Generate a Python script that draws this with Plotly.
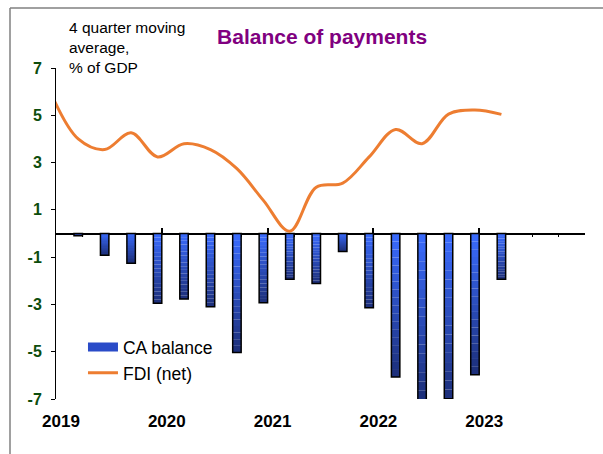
import plotly.graph_objects as go

# Current-account balance, % of GDP (4 quarter moving average)
ca_quarters = ["2019Q1", "2019Q2", "2019Q3", "2019Q4",
               "2020Q1", "2020Q2", "2020Q3", "2020Q4",
               "2021Q1", "2021Q2", "2021Q3", "2021Q4",
               "2022Q1", "2022Q2", "2022Q3", "2022Q4",
               "2023Q1"]
ca_balance = [-0.10, -0.92, -1.26, -2.95,
              -2.77, -3.10, -5.03, -2.93,
              -1.94, -2.11, -0.76, -3.14,
              -6.07, -7.04, -6.99, -5.97,
              -1.94]

# Net FDI, % of GDP (4 quarter moving average)
fdi_quarters = ["2018Q4"] + ca_quarters
fdi_net = [5.85, 4.00, 3.55, 4.26,
           3.24, 3.80, 3.55, 2.74,
           1.40, 0.10, 1.96, 2.13,
           3.24, 4.40, 3.80, 5.05,
           5.22, 5.04]

year_ticks = [2019, 2020, 2021, 2022, 2023, 2024]
year_labels = ["2019", "2020", "2021", "2022", "2023", ""]
y_ticks = [-7, -5, -3, -1, 1, 3, 5, 7]
y_labels = [str(v) for v in y_ticks]

FONT = "Liberation Sans, Arial, sans-serif"
TOP_BLUE = (58, 108, 255)
BOTTOM_BLUE = (28, 46, 120)
ORANGE = "#ED7D31"
BAR_WIDTH = 0.08
N_SLICES = 18


def quarter_pos(label):
    """Place each quarter near its end on a fractional-year axis."""
    year, q = int(label[:4]), int(label[-1])
    return year + q / 4 - 0.04


def blend(t):
    r, g, b = (round(a + (c - a) * t) for a, c in zip(TOP_BLUE, BOTTOM_BLUE))
    return f"rgb({r},{g},{b})"


ca_x = [quarter_pos(q) for q in ca_quarters]
fdi_x = [quarter_pos(q) for q in fdi_quarters]

fig = go.Figure()

# Bars shaded from light (at zero) to dark (at the bar end)
for j in range(N_SLICES):
    fig.add_bar(
        x=ca_x,
        y=[v / N_SLICES for v in ca_balance],
        base=[v * j / N_SLICES for v in ca_balance],
        width=BAR_WIDTH,
        marker=dict(color=blend((j + 0.5) / N_SLICES), line=dict(width=0)),
        showlegend=False,
        hoverinfo="skip",
    )

# Bar outlines
fig.add_bar(
    x=ca_x, y=ca_balance, width=BAR_WIDTH,
    marker=dict(color="rgba(0,0,0,0)", line=dict(color="black", width=1.5)),
    showlegend=False, name="CA balance",
)

# Legend entry for the bars
fig.add_scatter(
    x=[None], y=[None], mode="lines", name="CA balance",
    line=dict(color="#2a4bc8", width=9),
)

fig.add_scatter(
    x=fdi_x, y=fdi_net, mode="lines", name="FDI (net)",
    line=dict(color=ORANGE, width=3, shape="spline", smoothing=1.0),
)

fig.update_layout(
    width=603, height=454,
    margin=dict(l=56, r=18, t=68, b=55),
    paper_bgcolor="white", plot_bgcolor="white",
    barmode="overlay",
    font=dict(family=FONT, color="black"),
    title=dict(
        text="<b>Balance of payments</b>",
        x=0.503, xref="paper", xanchor="center",
        y=1 - 37 / 454, yref="container", yanchor="middle",
        font=dict(size=21, color="#800080", family=FONT),
    ),
    legend=dict(
        x=0.051, y=0.211, xanchor="left", yanchor="top",
        bgcolor="rgba(0,0,0,0)", font=dict(size=17.5, family=FONT),
        tracegroupgap=0,
    ),
    xaxis=dict(
        range=[2019, 2024],
        tickmode="array", tickvals=year_ticks, ticktext=year_labels,
        showline=True, linecolor="black", linewidth=1.5,
        ticks="inside", ticklen=5, tickcolor="black", tickwidth=1.5,
        anchor="free", position=0.5,
        showgrid=False, zeroline=False,
        tickfont=dict(size=17, color="black", weight="bold", family=FONT),
        ticklabelstandoff=172, ticklabelshift=5,
        minor=dict(tickmode="linear", tick0=2019, dtick=0.25,
                   ticks="outside", ticklen=3, tickcolor="black", tickwidth=1),
        layer="below traces",
    ),
    yaxis=dict(
        range=[-7, 7],
        tickmode="array", tickvals=y_ticks, ticktext=y_labels,
        showline=True, linecolor="black", linewidth=1,
        ticks="outside", ticklen=4, tickcolor="black",
        showgrid=False, zeroline=False,
        tickfont=dict(size=16, color="#0d4d0d", weight="bold", family=FONT),
        ticklabelstandoff=6,
    ),
    annotations=[
        dict(
            text="4 quarter moving<br>average,<br>% of GDP",
            xref="paper", yref="paper",
            x=(67 - 56) / 529, y=(399 - 17) / 331,
            xanchor="left", yanchor="top", align="left",
            showarrow=False,
            font=dict(size=15.5, color="black", family=FONT),
        )
    ],
    shapes=[
        dict(type="line", xref="paper", yref="paper",
             x0=(10 - 56) / 529, x1=(603 - 56) / 529,
             y0=(399 - 8) / 331, y1=(399 - 8) / 331,
             line=dict(color="#808080", width=1.5)),
        dict(type="line", xref="paper", yref="paper",
             x0=(10 - 56) / 529, x1=(10 - 56) / 529,
             y0=(399 - 8) / 331, y1=(399 - 460) / 331,
             line=dict(color="#808080", width=1.5)),
    ],
)

fig.write_html("out.html")
